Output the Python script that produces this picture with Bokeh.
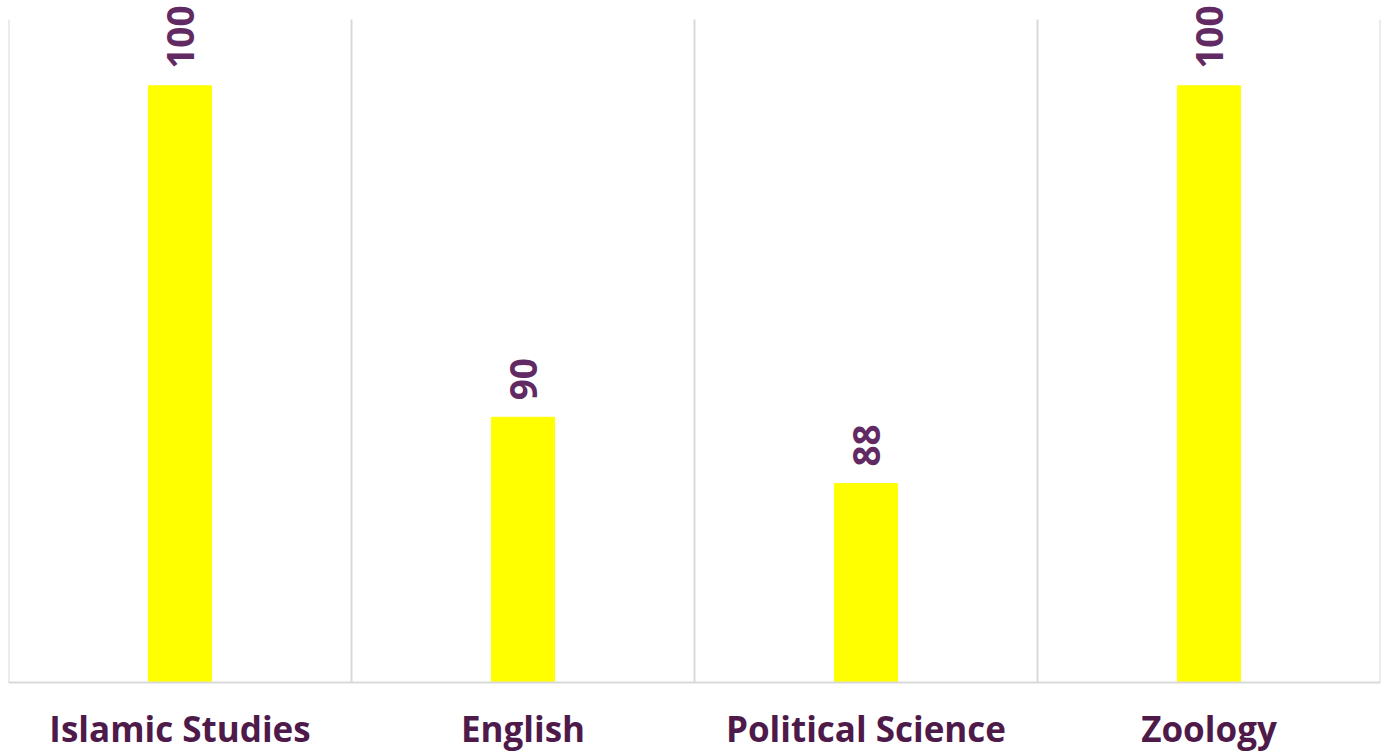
import math
from bokeh.plotting import figure
from bokeh.models import ColumnDataSource, FixedTicker, Range1d
from bokeh.core.properties import value
from bokeh.embed import file_html
from bokeh.resources import INLINE

categories = ["Islamic Studies", "English", "Political Science", "Zoology"]
scores = [100, 90, 88, 100]
label_texts = ["100", "90", "88", "100"]

y_min, y_max = 82, 102
xs = [i + 0.5 for i in range(len(categories))]
src = ColumnDataSource(dict(x=xs, top=scores, lbl=label_texts))
bounds = list(range(len(categories) + 1))

frame_h = 682
px_per_unit = 663 / (y_max - y_min)
p = figure(frame_width=1372, frame_height=frame_h, output_backend="svg", toolbar_location=None,
           x_range=Range1d(0, len(categories)),
           y_range=Range1d(y_min, y_min + frame_h / px_per_unit),
           min_border_left=8, min_border_right=1, min_border_top=0, min_border_bottom=0)
p.outline_line_color = None
p.background_fill_color = "white"
p.border_fill_color = "white"
p.xgrid.visible = False
p.ygrid.visible = False

# category divider lines
p.segment(x0=bounds, x1=bounds, y0=[y_min] * len(bounds), y1=[y_max] * len(bounds),
          line_color="#d9d9d9", line_width=2)

p.vbar(x="x", top="top", bottom=y_min, width=0.184, color="#FFFF00", source=src)
p.text(x="x", y="top", text="lbl", source=src, angle=math.pi / 2,
       text_align="left", text_baseline="middle", y_offset=-17,
       text_font=value("Open Sans"), text_font_style="bold",
       text_font_size="37px", text_color="#622a62")

p.yaxis.visible = False

xa = p.xaxis[0]
xa.ticker = FixedTicker(ticks=xs)
xa.major_label_overrides = {x: c for x, c in zip(xs, categories)}
xa.major_tick_line_color = None
xa.minor_tick_line_color = None
xa.axis_line_color = "#d9d9d9"
xa.axis_line_width = 2
xa.major_label_standoff = 16
xa.major_label_text_font = "Open Sans"
xa.major_label_text_font_style = "bold"
xa.major_label_text_font_size = "35px"
xa.major_label_text_color = "#4e1a4a"

open("out.html", "w").write(file_html(p, INLINE))
